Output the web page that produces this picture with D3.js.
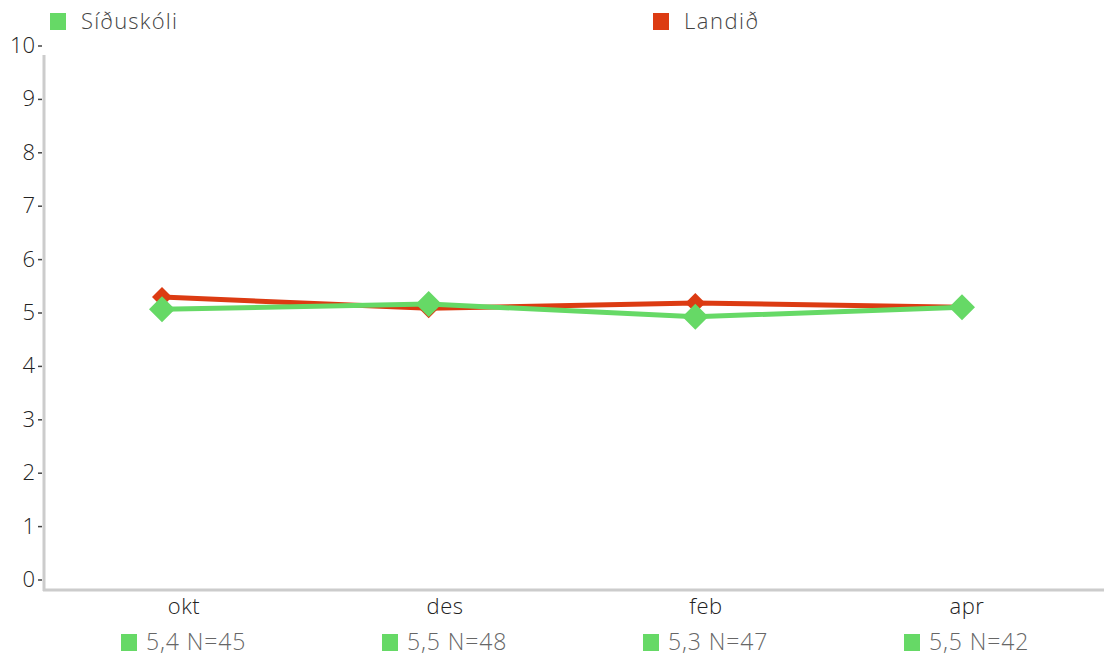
<!DOCTYPE html>
<html><head><meta charset="utf-8">
<script src="https://cdn.jsdelivr.net/npm/d3@7"></script>
<style>body{margin:0;background:#fff}svg{display:block;font-family:"Open Sans",Lato,sans-serif;font-weight:300}</style>
</head><body><svg id="c" width="1104" height="657"></svg>
<script>
const categories = ["okt","des","feb","apr"];
const seriesNames = ["Síðuskóli","Landið"];
const landid = [5.28, 5.07, 5.17, 5.09];
const siduskoli = [5.05, 5.15, 4.91, 5.09];
const footLabels = ["5,4 N=45","5,5 N=48","5,3 N=47","5,5 N=42"];
const yTicks = [0,1,2,3,4,5,6,7,8,9,10];
const colors = {green:"#66d966", red:"#dc3b12"};

const svg = d3.select("#c");
const x = d3.scalePoint().domain(categories).range([162, 962]);
const xLab = d3.scalePoint().domain(categories).range([184, 967]);
const y = d3.scaleLinear().domain([0,10]).range([579, 45]);

// axes lines
svg.append("line").attr("x1",44).attr("x2",44).attr("y1",55).attr("y2",591).attr("stroke","#cccccc").attr("stroke-width",3);
svg.append("line").attr("x1",43).attr("x2",1104).attr("y1",590).attr("y2",590).attr("stroke","#cccccc").attr("stroke-width",3);

// y ticks
const yt = svg.append("g");
yTicks.forEach(t=>{
  yt.append("text").attr("x",35).attr("y",y(t)).attr("dy","0.36em").attr("text-anchor","end")
    .attr("font-size",22).attr("fill","#222").text(t);
  yt.append("line").attr("x1",38).attr("x2",42).attr("y1",y(t)+1).attr("y2",y(t)+1).attr("stroke","#444").attr("stroke-width",1.5);
});

// x labels
categories.forEach((c,i)=>{
  svg.append("text").attr("x",xLab(c)).attr("y",614).attr("text-anchor","middle").attr("font-size",22).attr("letter-spacing","0.5px").attr("fill","#222").text(c);
  const g = svg.append("g");
  g.append("text").attr("x",xLab(c)-38).attr("y",650).attr("font-size",23).attr("letter-spacing","0.9px").attr("fill","#666").text(footLabels[i]);
  g.append("rect").attr("x",xLab(c)-63).attr("y",634).attr("width",16).attr("height",17).attr("fill",colors.green);
});

// legend
svg.append("rect").attr("x",50).attr("y",13).attr("width",16).attr("height",17).attr("fill",colors.green);
svg.append("text").attr("x",81).attr("y",29).attr("font-size",22).attr("letter-spacing","1.2px").attr("fill","#444").text(seriesNames[0]);
svg.append("rect").attr("x",653).attr("y",13).attr("width",16).attr("height",17).attr("fill",colors.red);
svg.append("text").attr("x",684).attr("y",29).attr("font-size",22).attr("letter-spacing","1.5px").attr("fill","#444").text(seriesNames[1]);

const line = d3.line().x((d,i)=>x(categories[i])).y(d=>y(d));
function drawSeries(data,color,size){
  svg.append("path").datum(data).attr("d",line).attr("fill","none").attr("stroke",color).attr("stroke-width",5);
  svg.selectAll(null).data(data).enter().append("path")
    .attr("d",d3.symbol(d3.symbolSquare, size*size*2))
    .attr("transform",(d,i)=>`translate(${x(categories[i])},${y(d)}) rotate(45)`)
    .attr("fill",color);
}
drawSeries(landid, colors.red, 10);
drawSeries(siduskoli, colors.green, 13);
</script></body></html>
